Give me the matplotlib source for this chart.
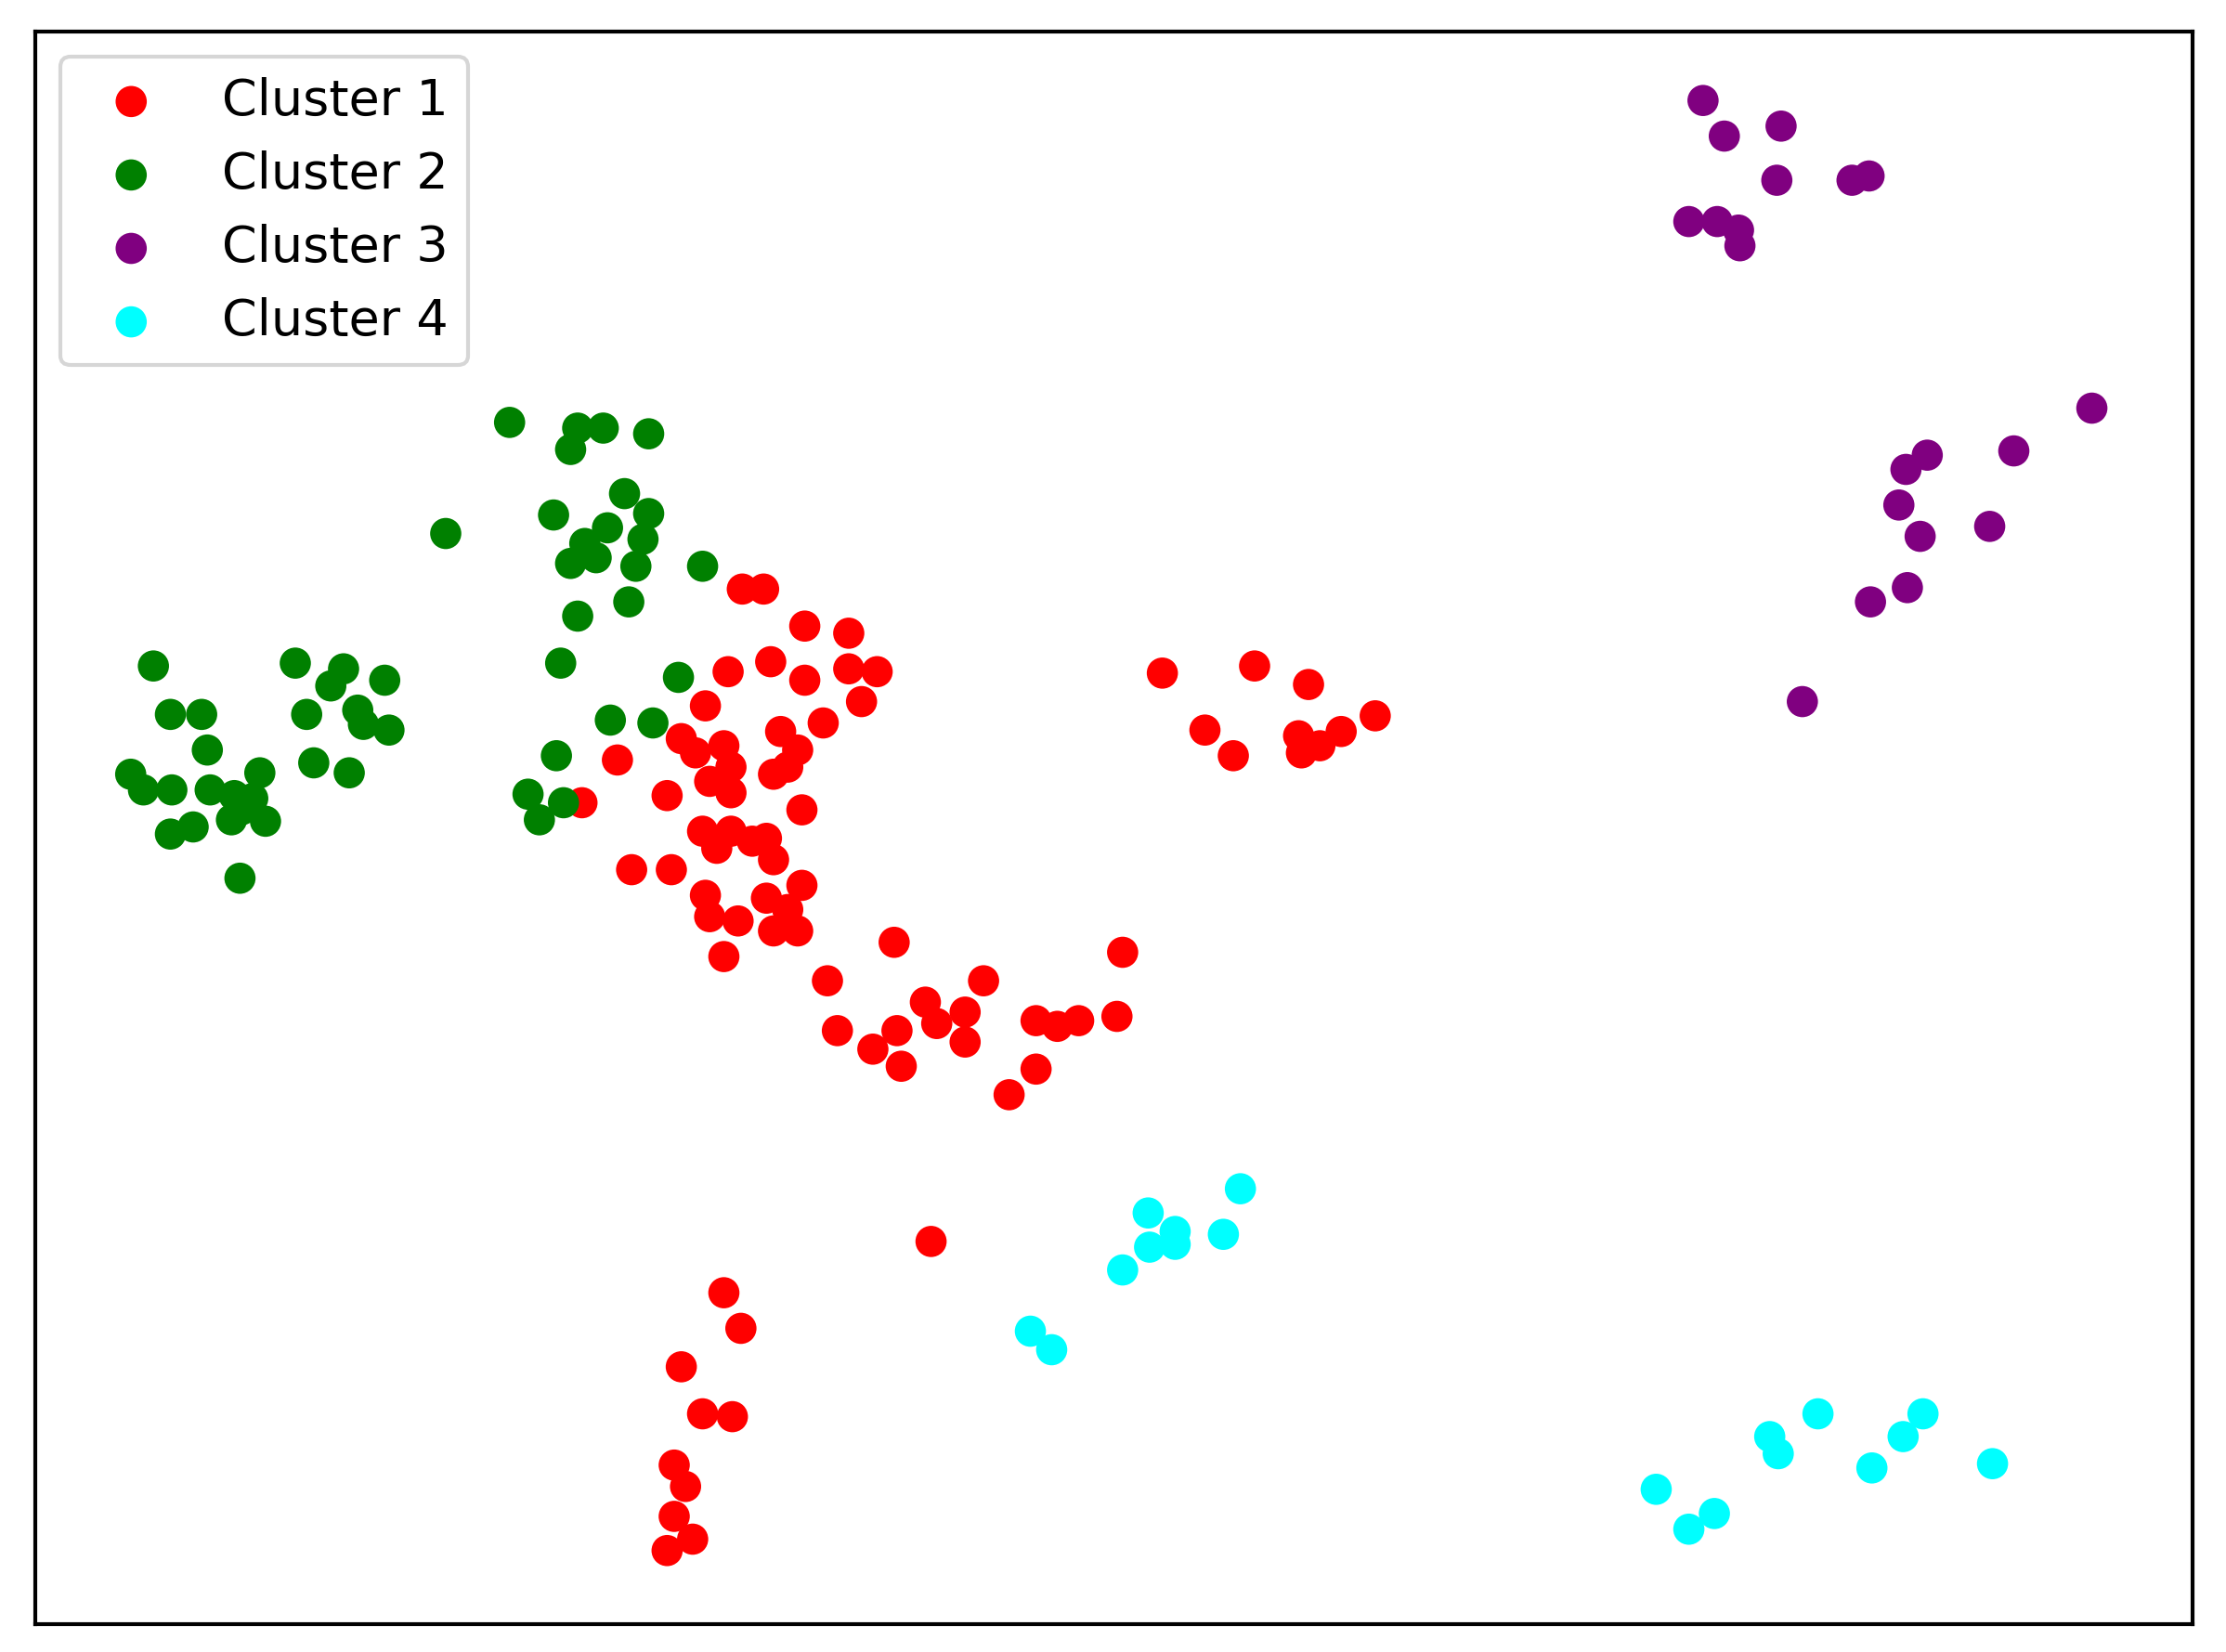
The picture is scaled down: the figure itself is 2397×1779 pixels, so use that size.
import matplotlib
matplotlib.use("Agg")
import matplotlib.pyplot as plt

c1 = [(523,415),(538,415),(567,441),(598,446),(513,473),(543,466),(567,479),(598,471),(618,473),(607,494),(580,509),(497,497),(480,520),(490,530),(510,525),(515,540),(550,515),(562,528),(545,545),(555,540),(435,535),(470,560),(500,550),(515,558),(565,570),(410,565),(495,585),(505,597),(515,585),(530,592),(545,605),(540,590),(445,612),(473,612),(497,630),(500,645),(520,648),(540,632),(565,623),(555,640),(545,655),(562,655),(510,673),(630,663),(583,690),(590,725),(615,738),(635,750),(632,725),(652,705),(660,720),(680,712),(680,733),(693,690),(730,718),(745,722),(760,718),(787,715),(791,670),(730,752),(711,770),(819,474),(884,469),(922,482),(849,514),(869,532),(915,518),(917,530),(930,525),(945,515),(969,504),(656,873),(510,909),(522,934),(480,961),(495,994),(516,996),(475,1030),(483,1045),(475,1066),(488,1082),(470,1090)]
c2 = [(359,298),(407,302),(425,302),(457,306),(402,317),(314,376),(390,363),(440,348),(457,362),(428,372),(453,380),(412,383),(420,393),(402,397),(448,399),(495,399),(443,424),(407,434),(395,467),(478,477),(430,507),(460,509),(392,532),(372,559),(380,577),(397,565),(108,469),(208,467),(242,471),(233,483),(271,479),(120,503),(142,503),(216,503),(252,500),(256,510),(274,514),(146,528),(221,537),(246,544),(92,545),(101,556),(121,556),(148,556),(165,560),(183,544),(178,562),(170,570),(163,577),(187,578),(120,587),(136,582),(169,618)]
c3 = [(1200,72),(1215,97),(1255,90),(1252,128),(1305,128),(1317,125),(1190,157),(1210,157),(1225,163),(1226,174),(1474,288),(1419,318),(1358,321),(1343,331),(1338,356),(1353,378),(1402,371),(1344,414),(1318,424),(1270,494)]
c4 = [(874,836),(809,853),(828,866),(810,877),(828,875),(862,868),(791,893),(726,936),(741,949),(1281,994),(1247,1010),(1253,1022),(1355,994),(1341,1010),(1319,1032),(1404,1029),(1167,1047),(1208,1064),(1190,1075)]
labels = ["Cluster 1", "Cluster 2", "Cluster 3", "Cluster 4"]
colors = ["red", "green", "purple", "cyan"]

fig = plt.figure(figsize=(7.99, 5.93), dpi=300)
ax = fig.add_axes([0.016, 0.017, 0.969, 0.964])
for pts, lab, col in zip([c1, c2, c3, c4], labels, colors):
    ax.scatter([p[0] for p in pts], [p[1]-1.5 for p in pts], c=col, s=65, label=lab, edgecolors='none')
ax.set_xlim(25, 1545)
ax.set_ylim(1140, 22)
ax.set_xticks([]); ax.set_yticks([])
for s in ax.spines.values():
    s.set_linewidth(1.0)
ax.legend(loc='upper left', fontsize=13, borderaxespad=0.5)
fig.savefig("out.png", dpi=300)
